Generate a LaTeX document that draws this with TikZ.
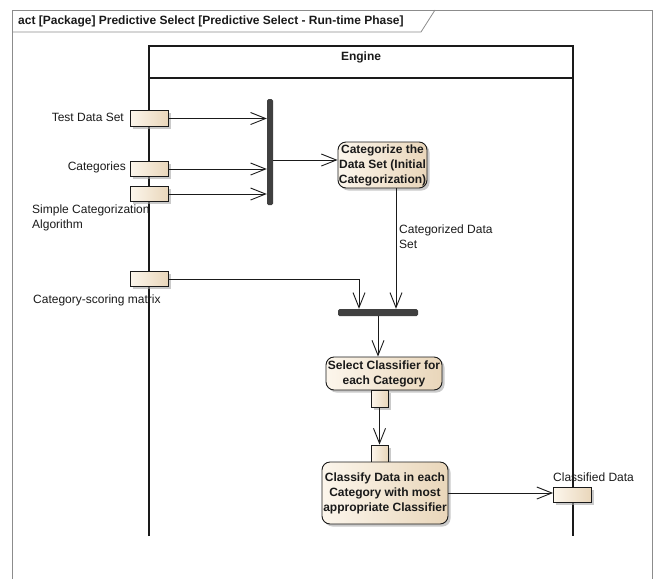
\documentclass[tikz,border=0pt]{standalone}
\usepackage{fontspec}
\setmainfont{Liberation Sans}
\usetikzlibrary{arrows.meta,shadows,calc}
\definecolor{pinL}{HTML}{FCF6EC}
\definecolor{pinR}{HTML}{E9D6BA}
\definecolor{barC}{HTML}{404040}
\definecolor{frameC}{HTML}{8C8C8C}
\definecolor{inkC}{HTML}{1A1A1A}
\begin{document}
\begin{tikzpicture}[x=1pt,y=-1pt,
  every node/.style={font=\fontsize{12}{15}\selectfont, text=inkC},
  shad/.style={drop shadow={shadow xshift=2.5pt, shadow yshift=-2.5pt, fill=black!35, opacity=0.6}},
  objpin/.style={draw=inkC, line width=0.9pt, left color=pinL, right color=pinR,
    minimum width=38pt, minimum height=15.5pt, inner sep=0pt, shad},
  smallpin/.style={objpin, minimum width=17pt, minimum height=17pt},
  action/.style={draw=inkC, line width=0.9pt, rounded corners=8pt, left color=pinL, right color=pinR,
    inner sep=0pt, align=center, font=\bfseries\fontsize{12}{15}\selectfont, shad},
  bar/.style={fill=barC, rounded corners=1.5pt, inner sep=0pt},
  arr/.style={draw=inkC, line width=0.9pt, -{Straight Barb[length=15pt,width=12pt,line width=0.9pt]}},
  lbl/.style={inner sep=0pt, align=left}
]
\useasboundingbox (0,0) rectangle (656,579);
% frame
\draw[frameC, line width=0.8pt] (12,579) -- (12,10) -- (652,10) -- (652,579);
\draw[frameC, line width=0.8pt] (12,32) -- (421,32) -- (435,10);
\node[anchor=west, inner sep=0pt, font=\bfseries\fontsize{12}{15}\selectfont] (title) at (18,21)
  {act [Package] Predictive Select [Predictive Select - Run-time Phase]};
% partition
\draw[inkC, line width=1.1pt] (149,536) -- (149,46) -- (573,46) -- (573,536);
\draw[inkC, line width=1.1pt] (149,78) -- (573,78);
\node[font=\bfseries\fontsize{12}{15}\selectfont] (engine) at (361,57) {Engine};
% bars
\node[bar, minimum width=6pt, minimum height=106pt] (fork) at (270,152) {};
\node[bar, minimum width=80pt, minimum height=7pt] (join) at (378,312.5) {};
% pins
\node[objpin] (tds) at (149,118.5) {};
\node[objpin] (cat) at (149.5,169) {};
\node[objpin] (sca) at (149.5,194) {};
\node[objpin] (csm) at (149.5,279) {};
\node[objpin] (cld) at (572.5,495) {};
% actions
\node[action, minimum width=89pt, minimum height=46pt] (act1) at (382.5,165)
  {Categorize the\\Data Set (Initial\\Categorization)};
\node[action, minimum width=116pt, minimum height=33pt] (act2) at (384,373.5)
  {Select Classifier for\\each Category};
\node[smallpin] (opin) at (379.5,398.5) {};
\node[smallpin] (ipin) at (379.5,453.5) {};
\node[action, minimum width=126pt, minimum height=62pt] (act3) at (385,493)
  {Classify Data in each\\Category with most\\appropriate Classifier};
% labels
\node[lbl, anchor=east] (ltds) at (124,117) {Test Data Set};
\node[lbl, anchor=east] (lcat) at (126,167) {Categories};
\node[lbl, anchor=west] (lsca) at (32,217.5) {Simple Categorization\\Algorithm};
\node[lbl, anchor=west] (lcsm) at (33,300) {Category-scoring matrix};
\node[lbl, anchor=west] (lcds) at (399,237) {Categorized Data\\Set};
\node[lbl, anchor=west] (lcld) at (553,477) {Classified Data};
% connectors
\draw[arr] (tds.east) -- (tds.east -| fork.west);
\draw[arr] (cat.east) -- (cat.east -| fork.west);
\draw[arr] (sca.east) -- (sca.east -| fork.west);
\draw[arr] ([yshift=5pt]act1.west -| fork.east) -- ([yshift=5pt]act1.west);
\draw[arr] ([xshift=13.5pt]act1.south) -- ([xshift=13.5pt]act1.south |- join.north);
\draw[arr] (csm.east) -| ([xshift=-19pt]join.north);
\draw[arr] (join.south) -- (join.south |- act2.north);
\draw[arr] (opin.south) -- (ipin.north);
\draw[arr] (act3.east) -- (act3.east -| cld.west);
\end{tikzpicture}
\end{document}
